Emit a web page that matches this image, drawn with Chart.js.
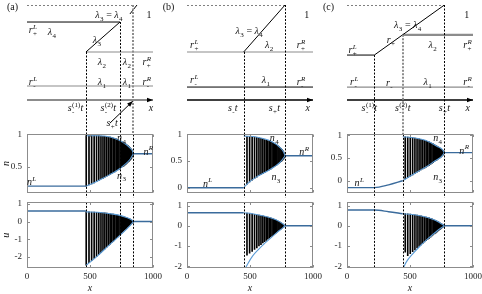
<!DOCTYPE html>
<html>
<head>
<meta charset="utf-8">
<script src="https://cdn.jsdelivr.net/npm/chart.js@4.4.1/dist/chart.umd.min.js"></script>
<style>
  body { margin: 0; background: #fff; }
  #fig { position: relative; width: 482px; height: 294px; overflow: hidden; }
  #fig canvas { position: absolute; }
</style>
</head>
<body>
<div id="fig"></div>
<script>
const FONT = '"Liberation Serif", "Times New Roman", serif';

// shared ticks
const xTicks = [0, 500, 1000];
const uTicks = [-2, -1, 0, 1];
const nTicksA = [0.5, 1];
const nTicksBC = [0, 0.5, 1];

// ---------- panel (a) ----------
const aNRange = [0.1, 1.0];
const aURange = [-2.64, 1.09];
const aShockX = [468, 738, 844];
const aShockTop = [0.633, 0.867, 1.0];
const aNLeft = [[0, 0.2], [468, 0.2]];
const aNRight = [[844, 0.7], [1000, 0.7]];
const aULeft = [[0, 0.6], [468, 0.6]];
const aURight = [[844, 0], [1000, 0]];
const aN4 = [[468, 0.98], [560, 0.98], [660, 0.96], [740, 0.9], [790, 0.84], [817, 0.79], [835, 0.75], [844, 0.7]];
const aN3 = [[468, 0.2], [520, 0.24], [580, 0.3], [650, 0.37], [720, 0.45], [780, 0.54], [820, 0.62], [844, 0.7]];
const aUHi = [[468, 0.55], [560, 0.53], [650, 0.46], [720, 0.38], [770, 0.28], [810, 0.18], [830, 0.1], [844, 0]];
const aULo = [[468, -2.5], [560, -1.95], [650, -1.35], [720, -0.9], [780, -0.5], [820, -0.22], [844, 0]];
const aBarX = [470, 492, 513, 533, 552, 570, 587, 603, 618, 633, 647, 660, 673, 685, 697, 708, 719, 729, 739, 749, 758, 767, 776, 784, 792, 800, 808, 815, 822, 829, 836, 842];
const aBarNTop = [0.98, 0.98, 0.98, 0.98, 0.98, 0.98, 0.975, 0.97, 0.97, 0.965, 0.96, 0.96, 0.95, 0.945, 0.94, 0.93, 0.92, 0.91, 0.9, 0.89, 0.88, 0.87, 0.86, 0.85, 0.84, 0.83, 0.815, 0.8, 0.785, 0.77, 0.745, 0.72];
const aBarNBot = [0.2, 0.22, 0.235, 0.25, 0.27, 0.29, 0.31, 0.32, 0.34, 0.355, 0.37, 0.38, 0.395, 0.41, 0.42, 0.435, 0.45, 0.46, 0.47, 0.485, 0.5, 0.51, 0.525, 0.535, 0.55, 0.565, 0.58, 0.595, 0.61, 0.63, 0.65, 0.68];
const aBarUTop = [0.55, 0.55, 0.54, 0.54, 0.53, 0.52, 0.51, 0.5, 0.49, 0.48, 0.46, 0.45, 0.43, 0.42, 0.4, 0.39, 0.37, 0.35, 0.33, 0.31, 0.29, 0.27, 0.25, 0.23, 0.21, 0.19, 0.17, 0.15, 0.12, 0.09, 0.06, 0.02];
const aBarUBot = [-2.48, -2.34, -2.22, -2.1, -1.99, -1.88, -1.77, -1.66, -1.56, -1.46, -1.37, -1.28, -1.19, -1.11, -1.03, -0.96, -0.88, -0.81, -0.74, -0.67, -0.6, -0.54, -0.48, -0.42, -0.37, -0.31, -0.26, -0.21, -0.16, -0.12, -0.07, -0.03];
const aSchDot = [[[0, 1], [857, 1]]];
const aSchBlack = [[[0, 0.867], [738, 0.867]], [[468, 0.633], [738, 0.867]], [[817, 0.93], [873, 1.0]]];
const aSchGray = [[[468, 0.633], [1000, 0.633]], [[0, 0.367], [1000, 0.367]]];
const aSchAxis = [[0, 0.258], [1000, 0.258]];
const aSchArrow = [[659, 0.078], [841, 0.25]];
const aSchLabels = [
  ['!(a)', -115, 0.99], ['λ_3 = λ_4', 651, 0.922], ['1', 968, 0.922],
  ['r_+^L', 48, 0.805], ['λ_4', 198, 0.79], ['λ_3', 556, 0.727],
  ['λ_2', 595, 0.555], ['λ_2', 794, 0.555], ['r_+^R', 952, 0.555],
  ['r_-^L', 48, 0.4], ['λ_1', 595, 0.4], ['λ_1', 794, 0.4], ['r_-^R', 952, 0.4],
  ['s_-^{(1)}t', 385, 0.195], ['s_-^{(2)}t', 645, 0.195], ['x', 984, 0.195], ['s_+t', 675, 0.078]
];
const aNLabels = [['n^L', 37, 0.27], ['n_4', 751, 0.953], ['n_3', 751, 0.367], ['n^R', 963, 0.74]];

// ---------- panel (b) ----------
const bNRange = [-0.09, 1.0];
const bURange = [-2.09, 1.16];
const bShockX = [450, 778];
const bShockTop = [0.633, 1.0];
const bNLeft = [[0, 0], [450, 0]];
const bNRight = [[778, 0.6], [1000, 0.6]];
const bULeft = [[0, 0.65], [450, 0.65]];
const bURight = [[778, 0], [1000, 0]];
const bN4 = [[450, 0.97], [550, 0.95], [667, 0.87], [746, 0.74], [767, 0.67], [778, 0.6]];
const bN3 = [[450, 0], [476, 0.07], [550, 0.2], [620, 0.29], [690, 0.39], [740, 0.48], [778, 0.6]];
const bUHi = [[450, 0.65], [520, 0.6], [600, 0.5], [680, 0.36], [730, 0.22], [760, 0.1], [778, 0]];
const bULo = [[468, -2.05], [485, -1.85], [520, -1.5], [570, -1.15], [620, -0.85], [670, -0.57], [720, -0.3], [760, -0.1], [778, 0]];
const bBarX = [476, 497, 517, 536, 554, 571, 587, 602, 616, 629, 641, 653, 664, 675, 685, 695, 704, 713, 722, 730, 738, 746, 753, 760, 767, 773];
const bBarNTop = [0.965, 0.96, 0.955, 0.95, 0.945, 0.935, 0.925, 0.915, 0.905, 0.895, 0.885, 0.875, 0.865, 0.855, 0.845, 0.83, 0.815, 0.8, 0.785, 0.77, 0.755, 0.74, 0.72, 0.695, 0.67, 0.64];
const bBarNBot = [0.07, 0.11, 0.145, 0.175, 0.2, 0.225, 0.245, 0.265, 0.285, 0.3, 0.32, 0.335, 0.35, 0.37, 0.385, 0.4, 0.415, 0.43, 0.445, 0.46, 0.475, 0.49, 0.505, 0.52, 0.54, 0.565];
const bBarUTop = [0.63, 0.61, 0.59, 0.57, 0.55, 0.53, 0.51, 0.49, 0.47, 0.45, 0.43, 0.41, 0.39, 0.37, 0.35, 0.32, 0.3, 0.27, 0.24, 0.21, 0.18, 0.15, 0.12, 0.09, 0.06, 0.03];
const bBarUBot = [-1.45, -1.36, -1.27, -1.17, -1.09, -1.0, -0.93, -0.85, -0.79, -0.72, -0.66, -0.61, -0.55, -0.5, -0.45, -0.4, -0.36, -0.32, -0.27, -0.23, -0.19, -0.16, -0.12, -0.09, -0.05, -0.02];
const bSchDot = [[[0, 1], [778, 1]]];
const bSchBlack = [[[450, 0.633], [778, 1.0]], [[0, 0.359], [1000, 0.359]]];
const bSchGray = [[[0, 0.633], [1000, 0.633]]];
const bSchAxis = [[0, 0.258], [1000, 0.258]];
const bSchLabels = [
  ['!(b)', -147, 0.99], ['λ_3 = λ_4', 494, 0.8], ['1', 950, 0.922],
  ['r_+^L', 58, 0.6875], ['λ_2', 653, 0.6875], ['r_+^R', 905, 0.6875],
  ['r_-^L', 58, 0.414], ['λ_1', 627, 0.414], ['r_-^R', 905, 0.4],
  ['s_-t', 363, 0.195], ['s_+t', 693, 0.195], ['x', 958, 0.195]
];
const bNLabels = [['n^L', 164, 0.085], ['n_4', 693, 0.943], ['n_3', 706, 0.207], ['n^R', 931, 0.68]];

// ---------- panel (c) ----------
const cNRange = [-0.26, 1.02];
const cURange = [-2.09, 1.16];
const cShockX = [217, 442, 773];
const cShockTop = [0.609, 0.767, 1.0];
const cNLeft = [[0, -0.15], [217, -0.15], [330, -0.09], [442, 0]];
const cNRight = [[773, 0.62], [1000, 0.62]];
const cULeft = [[0, 0.78], [217, 0.78], [330, 0.7], [442, 0.6]];
const cURight = [[773, 0], [1000, 0]];
const cN4 = [[442, 0.97], [540, 0.94], [640, 0.87], [720, 0.75], [755, 0.69], [773, 0.62]];
const cN3 = [[442, 0], [500, 0.1], [560, 0.2], [630, 0.31], [700, 0.44], [750, 0.53], [773, 0.62]];
const cUHi = [[442, 0.6], [520, 0.56], [600, 0.47], [680, 0.33], [730, 0.18], [773, 0]];
const cULo = [[450, -2.05], [470, -1.8], [520, -1.4], [580, -1.0], [640, -0.65], [700, -0.33], [740, -0.13], [773, 0]];
const cBarX = [462, 482, 502, 521, 539, 556, 572, 587, 601, 615, 628, 640, 652, 663, 674, 684, 694, 703, 712, 720, 728, 736, 743, 750, 757, 763, 768, 772];
const cBarNTop = [0.965, 0.96, 0.955, 0.95, 0.94, 0.93, 0.92, 0.91, 0.9, 0.89, 0.88, 0.87, 0.855, 0.84, 0.825, 0.81, 0.795, 0.78, 0.765, 0.75, 0.735, 0.72, 0.705, 0.69, 0.675, 0.66, 0.645, 0.63];
const cBarNBot = [0.04, 0.07, 0.1, 0.13, 0.16, 0.19, 0.21, 0.24, 0.26, 0.28, 0.3, 0.32, 0.34, 0.36, 0.38, 0.4, 0.42, 0.44, 0.455, 0.47, 0.49, 0.5, 0.515, 0.53, 0.55, 0.57, 0.59, 0.61];
const cBarUTop = [0.6, 0.59, 0.58, 0.56, 0.55, 0.53, 0.51, 0.49, 0.47, 0.45, 0.43, 0.41, 0.39, 0.37, 0.34, 0.32, 0.29, 0.27, 0.24, 0.21, 0.18, 0.15, 0.12, 0.1, 0.07, 0.05, 0.03, 0.01];
const cBarUBot = [-1.3, -1.48, -1.38, -1.28, -1.19, -1.1, -1.02, -0.95, -0.87, -0.8, -0.74, -0.68, -0.62, -0.56, -0.5, -0.45, -0.4, -0.36, -0.31, -0.27, -0.23, -0.19, -0.15, -0.12, -0.08, -0.05, -0.03, -0.01];
const cSchDot = [[[0, 1], [773, 1]]];
const cSchBlack = [[[0, 0.609], [217, 0.609]], [[217, 0.609], [773, 1.0]]];
const cSchGray = [[[442, 0.767], [1000, 0.767]], [[0, 0.359], [1000, 0.359]]];
const cSchAxis = [[0, 0.258], [1000, 0.258]];
const cSchLabels = [
  ['!(c)', -147, 0.99], ['λ_3 = λ_4', 482, 0.844], ['1', 950, 0.922],
  ['r_+', 349, 0.727], ['r_+^L', 45, 0.648], ['λ_2', 680, 0.6875], ['r_+^R', 958, 0.6875],
  ['r_-^L', 58, 0.4], ['r_-', 336, 0.39], ['λ_1', 640, 0.4], ['r_-^R', 958, 0.4],
  ['s_-^{(1)}t', 177, 0.195], ['s_-^{(2)}t', 442, 0.195], ['s_+t', 773, 0.195], ['x', 958, 0.195]
];
const cNLabels = [['n^L', 98, -0.05], ['n_4', 720, 0.94], ['n_3', 720, 0.09], ['n^R', 931, 0.67]];

// ---------- drawing helpers ----------
const plotLeft = [27, 187, 347];
const BLUE = '#5b9bd5', DARKBLUE = '#3a6b9c', GRAY = '#8c8c8c';

function mkCanvas(left, top, w, h) {
  const c = document.createElement('canvas');
  c.width = w; c.height = h;
  c.style.left = left + 'px'; c.style.top = top + 'px';
  c.style.width = w + 'px'; c.style.height = h + 'px';
  document.getElementById('fig').appendChild(c);
  return c;
}

const pts = seg => seg.map(p => ({x: p[0], y: p[1]}));

function lineDs(seg, color, width, dash, order, smooth) {
  return {
    type: 'line', data: pts(seg), borderColor: color, borderWidth: width,
    borderDash: dash || [], pointRadius: 0, fill: false, order: order || 0,
    tension: 0, cubicInterpolationMode: smooth ? 'monotone' : 'default'
  };
}

function fontFor(t, size, plain) {
  return (!plain && /[A-Za-zλ]/.test(t) ? 'italic ' : '') + size + 'px ' + FONT;
}

// draws labels like "r_+^L" or "s_-^{(1)}t" centred on (cx, cy)
function drawMath(ctx, str, cx, cy, size) {
  let plain = false;
  if (str[0] === '!') { plain = true; str = str.slice(1); }
  const items = [];
  for (let i = 0; i < str.length;) {
    const c = str[i];
    if (c === '_' || c === '^') {
      let t;
      if (str[i + 1] === '{') { const j = str.indexOf('}', i); t = str.slice(i + 2, j); i = j + 1; }
      else { t = str[i + 1]; i += 2; }
      items.push({k: c, t});
    } else { items.push({k: 'n', t: c}); i++; }
  }
  const runs = [];
  let x = 0, k = 0;
  while (k < items.length) {
    if (items[k].k === 'n') {
      const f = fontFor(items[k].t, size, plain);
      ctx.font = f;
      runs.push({t: items[k].t, x, dy: 0, f});
      x += ctx.measureText(items[k].t).width; k++;
    } else {
      let w = 0;
      const ss = Math.round(size * 0.7);
      while (k < items.length && items[k].k !== 'n') {
        const s = items[k];
        const f = fontFor(s.t, ss, plain);
        ctx.font = f;
        runs.push({t: s.t, x: x + 0.4, dy: s.k === '_' ? size * 0.28 : -size * 0.42, f});
        w = Math.max(w, ctx.measureText(s.t).width + 0.6); k++;
      }
      x += w;
    }
  }
  const x0 = cx - x / 2, base = cy + size * 0.33;
  ctx.fillStyle = '#111'; ctx.textBaseline = 'alphabetic'; ctx.textAlign = 'left';
  runs.forEach(r => { ctx.font = r.f; ctx.fillText(r.t, x0 + r.x, base + r.dy); });
}

function deco(o) {
  return {
    id: 'deco',
    afterDatasetsDraw(chart) {
      const {ctx, chartArea: a, scales: {x, y}} = chart;
      ctx.save();
      o.vlines.forEach(v => {
        const px = Math.round(x.getPixelForValue(v.x)) + (v.w === 1 ? 0.5 : 0);
        const top = v.top === undefined ? a.top : y.getPixelForValue(v.top);
        ctx.beginPath();
        ctx.setLineDash([2, 1.5]);
        ctx.lineWidth = v.w; ctx.strokeStyle = v.c;
        ctx.moveTo(px, top); ctx.lineTo(px, a.bottom + (o.extend || 0));
        ctx.stroke();
      });
      ctx.setLineDash([]);
      (o.arrows || []).forEach(s => {
        const x0 = x.getPixelForValue(s[0][0]), y0 = y.getPixelForValue(s[0][1]);
        const x1 = x.getPixelForValue(s[1][0]), y1 = y.getPixelForValue(s[1][1]);
        const ang = Math.atan2(y1 - y0, x1 - x0), L = 6, W = 2.2;
        const c = Math.cos(ang), sn = Math.sin(ang);
        ctx.beginPath();
        ctx.moveTo(x1, y1);
        ctx.lineTo(x1 - L * c + W * sn, y1 - L * sn - W * c);
        ctx.lineTo(x1 - L * c - W * sn, y1 - L * sn + W * c);
        ctx.closePath(); ctx.fillStyle = '#000'; ctx.fill();
      });
      ctx.restore();
    },
    afterDraw(chart) {
      const {ctx, chartArea: a, scales: {x, y}} = chart;
      ctx.save();
      if (o.frame) {
        const L = Math.round(a.left) + 0.5, R = Math.round(a.right) - 0.5;
        const T = Math.round(a.top) + 0.5, B = Math.round(a.bottom) - 0.5;
        ctx.strokeStyle = GRAY; ctx.lineWidth = 1;
        ctx.strokeRect(L, T, R - L, B - T);
        ctx.beginPath();
        xTicks.forEach(v => {
          const px = Math.round(x.getPixelForValue(v)) + 0.5;
          ctx.moveTo(px, B); ctx.lineTo(px, B - 2.5);
          ctx.moveTo(px, T); ctx.lineTo(px, T + 2.5);
        });
        o.yTicks.forEach(v => {
          const py = Math.round(y.getPixelForValue(v)) + 0.5;
          ctx.moveTo(L, py); ctx.lineTo(L + 2.5, py);
          ctx.moveTo(R, py); ctx.lineTo(R - 2.5, py);
        });
        ctx.stroke();
      }
      (o.labels || []).forEach(l => drawMath(ctx, l[0], x.getPixelForValue(l[1]), y.getPixelForValue(l[2]), 10));
      ctx.restore();
    }
  };
}

const noUI = {legend: {display: false}, tooltip: {enabled: false}};

function schematic(col, S) {
  const cv = mkCanvas(plotLeft[col] - 27, 0, 178, 140);
  const ds = [];
  S.dot.forEach(s => ds.push(lineDs(s, '#000', 1, [2, 2])));
  S.black.forEach(s => ds.push(lineDs(s, '#000', 1)));
  S.gray.forEach((s, i) => ds.push(lineDs(s, GRAY, S.grayW[i])));
  ds.push(lineDs(S.axis, S.axisColor, S.axisW));
  if (S.arrow) ds.push(lineDs(S.arrow, '#000', 1));
  const vlines = S.shockX.map((v, i) => ({
    x: v, top: S.shockTop[i], w: i === S.thick ? 2 : 1, c: i === S.thick ? GRAY : '#000'
  }));
  new Chart(cv, {
    type: 'scatter',
    data: {datasets: ds},
    options: {
      responsive: false, animation: false, events: [],
      layout: {padding: {left: 27, right: 25, top: 5, bottom: 7}},
      plugins: noUI,
      scales: {
        x: {type: 'linear', display: false, min: 0, max: 1000},
        y: {type: 'linear', display: false, min: 0, max: 1}
      }
    },
    plugins: [deco({vlines, extend: 1, arrows: [S.axis, S.arrow].filter(Boolean), labels: S.labels})]
  });
}

function plotChart(col, P, isN) {
  const top = isN ? 124 : 192, h = isN ? 79 : 102;
  const cv = mkCanvas(plotLeft[col] - 27, top, 178, h);
  const bars = {
    type: 'bar', order: 2, backgroundColor: '#000', borderWidth: 0, barThickness: 1,
    data: P.barX.map((x, i) => ({x, y: isN ? [P.nBot[i], P.nTop[i]] : [P.uBot[i], P.uTop[i]]}))
  };
  const ds = [
    lineDs(isN ? P.nLeft : P.uLeft, DARKBLUE, 1.4, null, 0, true),
    lineDs(isN ? P.nRight : P.uRight, DARKBLUE, 1.4, null, 0),
    lineDs(isN ? P.n4 : P.uHi, BLUE, 1.1, null, 1, true),
    lineDs(isN ? P.n3 : P.uLo, BLUE, 1.1, null, 1, true),
    bars
  ];
  const range = isN ? P.nRange : P.uRange;
  const yTicks = isN ? P.nTicks : uTicks;
  const vlines = P.shockX.map(v => ({x: v, w: 1, c: '#000'}));
  const tickFont = {family: FONT, size: 9};
  new Chart(cv, {
    type: 'bar',
    data: {datasets: ds},
    options: {
      responsive: false, animation: false, events: [],
      layout: {padding: {left: 0, right: 25, top: 10, bottom: isN ? 6 : 0}},
      plugins: noUI,
      scales: {
        x: {
          type: 'linear', min: 0, max: 1000, offset: false, display: !isN,
          grid: {display: false, drawTicks: false}, border: {display: false},
          afterBuildTicks: s => { s.ticks = xTicks.map(v => ({value: v})); },
          afterFit: s => { s.height = isN ? 0 : 26; },
          ticks: {font: tickFont, color: '#222', padding: 3, maxRotation: 0, autoSkip: false, callback: v => String(v)},
          title: {display: !isN, text: 'x', color: '#222', font: {family: FONT, size: 10, style: 'italic'}, padding: {top: 0, bottom: 0}}
        },
        y: {
          type: 'linear', min: range[0], max: range[1],
          grid: {display: false, drawTicks: false}, border: {display: false},
          afterBuildTicks: s => { s.ticks = yTicks.map(v => ({value: v})); },
          afterFit: s => { s.width = 27; },
          ticks: {font: tickFont, color: '#222', padding: 5, callback: v => String(v)},
          title: {display: col === 0, text: isN ? 'n' : 'u', color: '#222', font: {family: FONT, size: 10, style: 'italic'}, padding: 0}
        }
      }
    },
    plugins: [deco({vlines, extend: isN ? 5 : 0, frame: true, yTicks, labels: isN ? P.nLabels : []})]
  });
}

const panels = [
  {
    sch: {dot: aSchDot, black: aSchBlack, gray: aSchGray, grayW: [1.2, 1.2], axis: aSchAxis, axisColor: GRAY, axisW: 2.2,
          arrow: aSchArrow, shockX: aShockX, shockTop: aShockTop, thick: 2, labels: aSchLabels},
    P: {nRange: aNRange, uRange: aURange, nTicks: nTicksA, shockX: aShockX, nLeft: aNLeft, nRight: aNRight, uLeft: aULeft, uRight: aURight,
        n4: aN4, n3: aN3, uHi: aUHi, uLo: aULo, barX: aBarX, nTop: aBarNTop, nBot: aBarNBot, uTop: aBarUTop, uBot: aBarUBot, nLabels: aNLabels}
  },
  {
    sch: {dot: bSchDot, black: bSchBlack, gray: bSchGray, grayW: [1.2], axis: bSchAxis, axisColor: '#000', axisW: 1.3,
          shockX: bShockX, shockTop: bShockTop, thick: -1, labels: bSchLabels},
    P: {nRange: bNRange, uRange: bURange, nTicks: nTicksBC, shockX: bShockX, nLeft: bNLeft, nRight: bNRight, uLeft: bULeft, uRight: bURight,
        n4: bN4, n3: bN3, uHi: bUHi, uLo: bULo, barX: bBarX, nTop: bBarNTop, nBot: bBarNBot, uTop: bBarUTop, uBot: bBarUBot, nLabels: bNLabels}
  },
  {
    sch: {dot: cSchDot, black: cSchBlack, gray: cSchGray, grayW: [2.2, 1.2], axis: cSchAxis, axisColor: '#000', axisW: 1.3,
          shockX: cShockX, shockTop: cShockTop, thick: 1, labels: cSchLabels},
    P: {nRange: cNRange, uRange: cURange, nTicks: nTicksBC, shockX: cShockX, nLeft: cNLeft, nRight: cNRight, uLeft: cULeft, uRight: cURight,
        n4: cN4, n3: cN3, uHi: cUHi, uLo: cULo, barX: cBarX, nTop: cBarNTop, nBot: cBarNBot, uTop: cBarUTop, uBot: cBarUBot, nLabels: cNLabels}
  }
];

panels.forEach((p, col) => {
  schematic(col, p.sch);
  plotChart(col, p.P, true);
  plotChart(col, p.P, false);
});
</script>
</body>
</html>
